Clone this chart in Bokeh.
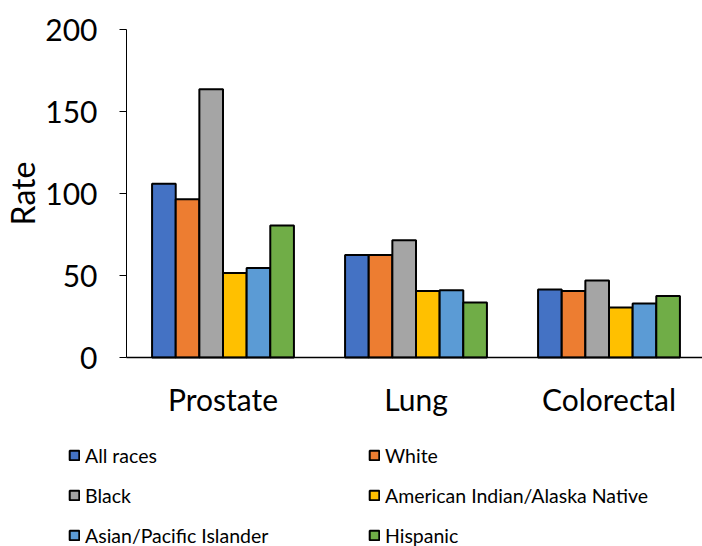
from bokeh.plotting import figure
from bokeh.models import Range1d, Legend, LegendItem, ColumnDataSource, FixedTicker
from bokeh.transform import dodge
from bokeh.embed import file_html
from bokeh.resources import INLINE

categories = ["Prostate", "Lung", "Colorectal"]
series_names = ["All races", "White", "Black", "American Indian/Alaska Native",
                "Asian/Pacific Islander", "Hispanic"]
all_races = [106, 62.5, 41.5]
white = [96.5, 62.5, 40.5]
black = [163.5, 71.5, 47]
aian = [51.5, 40.5, 30.5]
api = [54.5, 41, 33]
hispanic = [80.5, 33.5, 37.5]
y_ticks = [0, 50, 100, 150, 200]

colors = ["#4472C4", "#ED7D31", "#A5A5A5", "#FFC000", "#5B9BD5", "#70AD47"]
values = [all_races, white, black, aian, api, hispanic]

FONT = "Lato"
W, H = 702, 546
AX_LEFT, UNIT_X = 126, 193      # px of x=0, px per category
AX_TOP, AX_BOTTOM = 29, 357     # px of y=200 and y=0
ppy = (AX_BOTTOM - AX_TOP) / 200.0

x_range = Range1d(-AX_LEFT / UNIT_X, (W - AX_LEFT) / UNIT_X)
y_range = Range1d(-(H - AX_BOTTOM) / ppy, 200 + AX_TOP / ppy)

p = figure(x_range=x_range, y_range=y_range, width=W, height=H,
           output_backend="svg", toolbar_location=None,
           min_border_left=0, min_border_right=0, min_border_top=0, min_border_bottom=0)

pos = [i + 0.5 for i in range(len(categories))]
src = ColumnDataSource(dict(pos=pos, **{f"s{i}": v for i, v in enumerate(values)}))
bw = 0.1225
renderers = []
for i, (name, col) in enumerate(zip(series_names, colors)):
    off = (i - 2.5) * bw
    r = p.vbar(x=dodge("pos", off), top=f"s{i}", width=bw, source=src,
               fill_color=col, line_color="black", line_width=2)
    renderers.append(r)

p.xgrid.visible = False
p.ygrid.visible = False
p.outline_line_color = None
p.background_fill_color = "white"
p.border_fill_color = "white"

yax = p.yaxis[0]
yax.fixed_location = 0
yax.bounds = (0, 200)
yax.ticker = FixedTicker(ticks=y_ticks)
yax.axis_label = "Rate"
yax.axis_label_text_font = FONT
yax.axis_label_text_font_size = "32px"
yax.axis_label_text_font_style = "normal"
yax.axis_label_text_color = "black"
yax.axis_label_standoff = 0
yax.major_label_text_font = FONT
yax.major_label_text_font_size = "30px"
yax.major_label_text_color = "black"
yax.major_label_standoff = 22
yax.major_tick_out = 7
yax.major_tick_in = 0
yax.minor_tick_out = 0
yax.minor_tick_in = 0
yax.axis_line_color = "black"
yax.major_tick_line_color = "black"

xax = p.xaxis[0]
xax.fixed_location = 0
xax.bounds = (0, x_range.end)
xax.ticker = FixedTicker(ticks=pos)
xax.major_label_overrides = {v: c for v, c in zip(pos, categories)}
xax.major_label_text_font = FONT
xax.major_label_text_font_size = "30px"
xax.major_label_text_color = "black"
xax.major_label_standoff = 17
xax.major_tick_line_color = None
xax.minor_tick_line_color = None
xax.axis_line_color = "black"
xax.axis_line_width = 1.5

items = [LegendItem(label=n, renderers=[r]) for n, r in zip(series_names, renderers)]
legend = Legend(items=items, location=(68, -1), orientation="horizontal", ncols=2,
                label_text_font=FONT, label_text_font_size="19.5px", label_text_color="black",
                glyph_width=12, glyph_height=12, label_standoff=5, label_height=24,
                label_width=267, spacing=16, padding=0, margin=0,
                background_fill_alpha=0, border_line_color=None)
p.add_layout(legend, "center")

open("out.html", "w").write(file_html(p, INLINE))
